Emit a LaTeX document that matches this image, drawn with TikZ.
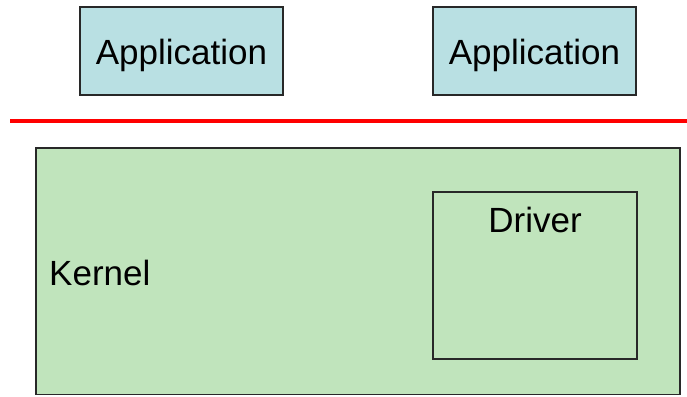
\documentclass[tikz,border=0pt]{standalone}
\usepackage{fontspec}
\setmainfont{Liberation Sans}
\definecolor{appfill}{RGB}{185,224,227}
\definecolor{kernfill}{RGB}{192,228,188}
\definecolor{edge}{RGB}{40,40,40}
\begin{document}
\begin{tikzpicture}[x=1pt,y=-1pt,
  box/.style={draw=edge,line width=1.3pt},
  lbl/.style={font=\fontsize{35}{40}\selectfont,inner sep=0pt}]
\useasboundingbox (0,0) rectangle (687,396);
% user space
\draw[box,fill=appfill] (80,7) rectangle (283,95);
\node[lbl,anchor=base] (app1) at (181.5,64) {Application};
\draw[box,fill=appfill] (433,7) rectangle (636,95);
\node[lbl,anchor=base] (app2) at (534.5,64) {Application};
% user/kernel boundary
\draw[red,line width=4.5pt] (10,121) -- (687,121);
% kernel space
\draw[box,fill=kernfill] (36,148) rectangle (680,394.5);
\node[lbl,anchor=base west] (kernel) at (49,285) {Kernel};
\draw[box] (433,192) rectangle (637,359);
\node[lbl,anchor=base] (driver) at (535,232) {Driver};
\end{tikzpicture}
\end{document}
